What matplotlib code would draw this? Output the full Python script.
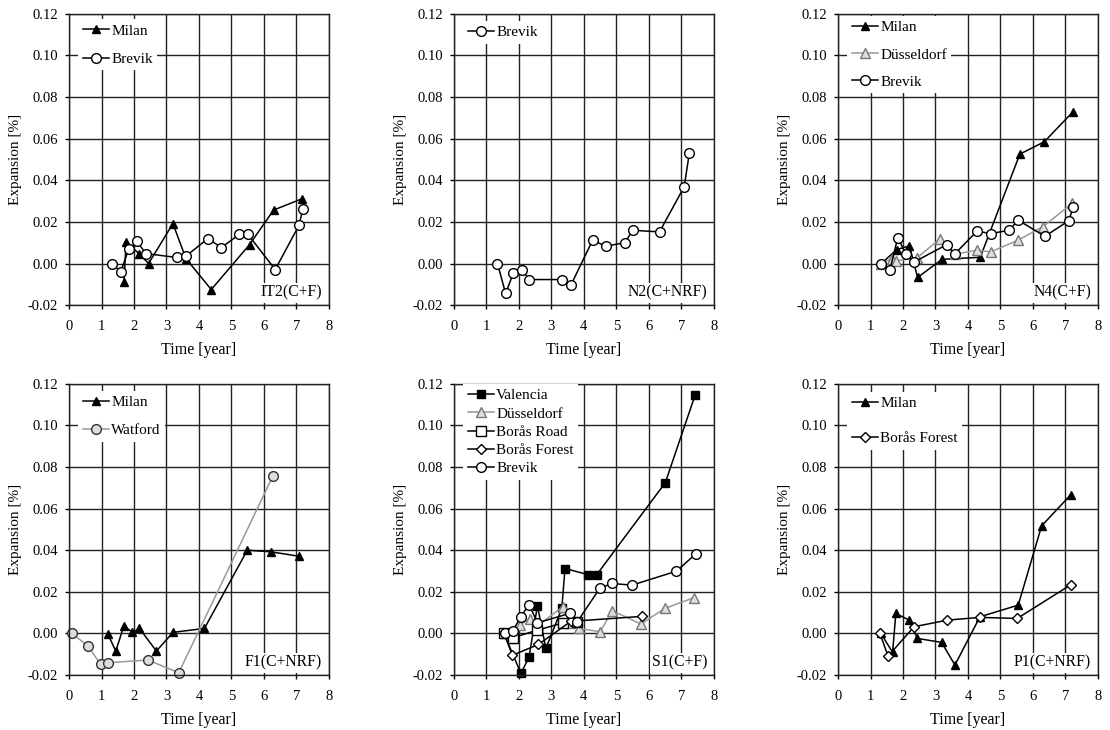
import matplotlib
matplotlib.use('Agg')
import matplotlib.pyplot as plt
from matplotlib.ticker import MultipleLocator, FormatStrFormatter

plt.rcParams['font.family'] = ['Liberation Serif', 'DejaVu Serif']
plt.rcParams['font.size'] = 10.5
plt.rcParams['legend.numpoints'] = 1

# IT2(C+F)
it2_milan_t = [1.69, 1.76, 2.15, 2.45, 3.2, 3.6, 4.38, 5.56, 6.3, 7.17]
it2_milan_e = [-0.0088, 0.0104, 0.0048, 0.0, 0.0192, 0.0024, -0.0125, 0.0091, 0.0257, 0.0311]
it2_brevik_t = [1.33, 1.59, 1.84, 2.1, 2.36, 3.32, 3.61, 4.28, 4.69, 5.25, 5.51, 6.35, 7.08, 7.2]
it2_brevik_e = [0.0, -0.004, 0.007, 0.0106, 0.0048, 0.0029, 0.0037, 0.012, 0.0077, 0.014, 0.014, -0.0029, 0.0183, 0.026]

# N2(C+NRF)
n2_brevik_t = [1.34, 1.59, 1.83, 2.09, 2.32, 3.34, 3.6, 4.27, 4.68, 5.27, 5.5, 6.33, 7.09, 7.25]
n2_brevik_e = [0.0, -0.0144, -0.0045, -0.0029, -0.0077, -0.0077, -0.0104, 0.0112, 0.0083, 0.0101, 0.016, 0.0152, 0.0369, 0.0532]

# N4(C+F)
n4_milan_t = [1.33, 1.81, 2.2, 2.45, 3.2, 4.38, 5.6, 6.35, 7.24]
n4_milan_e = [0.0, 0.0067, 0.0085, -0.0067, 0.002, 0.003, 0.0526, 0.0585, 0.073]
n4_dus_t = [1.33, 1.65, 1.78, 2.43, 3.15, 3.59, 4.28, 4.7, 5.54, 6.3, 7.22]
n4_dus_e = [0.0, 0.0024, 0.0013, 0.0027, 0.012, 0.0045, 0.0064, 0.0056, 0.0112, 0.0176, 0.029]
n4_brevik_t = [1.32, 1.6, 1.84, 2.09, 2.35, 3.35, 3.59, 4.28, 4.7, 5.28, 5.54, 6.37, 7.1, 7.25]
n4_brevik_e = [0.0, -0.0029, 0.0125, 0.0045, 0.0008, 0.0091, 0.0045, 0.0156, 0.0144, 0.016, 0.0209, 0.0131, 0.0205, 0.0273]

# F1(C+NRF)
f1_milan_t = [1.2, 1.44, 1.69, 1.95, 2.17, 2.69, 3.2, 4.17, 5.49, 6.23, 7.08]
f1_milan_e = [-0.0005, -0.0085, 0.0037, 0.0005, 0.0024, -0.0085, 0.0005, 0.0024, 0.04, 0.0392, 0.0371]
f1_watford_t = [0.1, 0.58, 0.97, 1.2, 2.43, 3.38, 6.28]
f1_watford_e = [0.0, -0.0061, -0.0147, -0.0141, -0.0128, -0.0189, 0.0757]

# S1(C+F)
s1_val_t = [1.54, 2.06, 2.31, 2.57, 2.83, 3.32, 3.42, 4.12, 4.4, 6.51, 7.43]
s1_val_e = [0.0, -0.0192, -0.0115, 0.0133, -0.0072, 0.012, 0.0312, 0.0283, 0.0283, 0.0725, 0.1147]
s1_dus_t = [1.54, 1.83, 2.02, 2.33, 2.6, 3.35, 3.58, 3.85, 4.5, 4.88, 5.76, 6.49, 7.38]
s1_dus_e = [0.0, -0.002, 0.004, 0.007, 0.004, 0.0128, 0.0048, 0.0024, 0.0008, 0.0109, 0.0045, 0.012, 0.0171]
s1_road_t = [1.54, 1.83, 2.57, 3.35, 3.8]
s1_road_e = [0.0, -0.002, 0.0016, 0.005, 0.0055]
s1_forest_t = [1.54, 1.8, 2.6, 3.6, 5.8]
s1_forest_e = [0.0, -0.0105, -0.0053, 0.0058, 0.0082]
s1_brevik_t = [1.57, 1.81, 2.06, 2.31, 2.57, 3.56, 3.8, 4.5, 4.88, 5.48, 6.85, 7.46]
s1_brevik_e = [0.0, 0.0013, 0.008, 0.0139, 0.0051, 0.0096, 0.0056, 0.0219, 0.024, 0.0232, 0.0299, 0.0384]

# P1(C+NRF)
p1_milan_t = [1.32, 1.68, 1.78, 2.19, 2.44, 3.19, 3.6, 4.37, 5.55, 6.27, 7.17]
p1_milan_e = [0.0, -0.0091, 0.0096, 0.0064, -0.0024, -0.0043, -0.0152, 0.008, 0.0136, 0.0517, 0.0667]
p1_forest_t = [1.29, 1.54, 2.34, 3.37, 4.37, 5.52, 7.18]
p1_forest_e = [0.0, -0.0109, 0.0032, 0.0064, 0.0077, 0.0072, 0.0235]

milan = dict(color='k', marker='^', ms=6, mfc='k', mec='k', lw=1.1)
brevik = dict(color='k', marker='o', ms=7, mfc='white', mec='k', lw=1.1)
dus = dict(color='#999999', marker='^', ms=7.5, mfc='#dddddd', mec='#777777', lw=1.1)
watford = dict(color='#999999', marker='o', ms=7, mfc='#dddddd', mec='#333333', lw=1.1)
valencia = dict(color='k', marker='s', ms=5.5, mfc='k', mec='k', lw=1.1)
road = dict(color='k', marker='s', ms=6.5, mfc='white', mec='k', lw=1.1)
forest = dict(color='k', marker='D', ms=5.5, mfc='white', mec='k', lw=1.1)

fig = plt.figure(figsize=(11.1, 7.3), dpi=100)
lefts = [0.0622, 0.409, 0.755]
bottoms = [0.582, 0.0753]
W, H = 0.234, 0.399

# name, series, legend label spacing, legend top offset
panels = [
    ('IT2(C+F)', [(it2_milan_t, it2_milan_e, 'Milan', milan),
                  (it2_brevik_t, it2_brevik_e, 'Brevik', brevik)], 0.95, 0.019),
    ('N2(C+NRF)', [(n2_brevik_t, n2_brevik_e, 'Brevik', brevik)], 0.9, 0.025),
    ('N4(C+F)', [(n4_milan_t, n4_milan_e, 'Milan', milan),
                 (n4_dus_t, n4_dus_e, 'Düsseldorf', dus),
                 (n4_brevik_t, n4_brevik_e, 'Brevik', brevik)], 0.88, 0.008),
    ('F1(C+NRF)', [(f1_milan_t, f1_milan_e, 'Milan', milan),
                   (f1_watford_t, f1_watford_e, 'Watford', watford)], 0.91, 0.025),
    ('S1(C+F)', [(s1_val_t, s1_val_e, 'Valencia', valencia),
                 (s1_dus_t, s1_dus_e, 'Düsseldorf', dus),
                 (s1_road_t, s1_road_e, 'Borås Road', road),
                 (s1_forest_t, s1_forest_e, 'Borås Forest', forest),
                 (s1_brevik_t, s1_brevik_e, 'Brevik', brevik)], 0.3, 0.001),
    ('P1(C+NRF)', [(p1_milan_t, p1_milan_e, 'Milan', milan),
                   (p1_forest_t, p1_forest_e, 'Borås Forest', forest)], 1.37, 0.029),
]

for i, (name, series, spacing, dy) in enumerate(panels):
    ax = fig.add_axes([lefts[i % 3], bottoms[i // 3], W, H])
    for t, e, lab, st in series:
        ax.plot(t, e, label=lab, clip_on=False, **st)
    ax.set_xlim(0, 8)
    ax.set_ylim(-0.02, 0.12)
    ax.xaxis.set_major_locator(MultipleLocator(1))
    ax.yaxis.set_major_locator(MultipleLocator(0.02))
    ax.yaxis.set_major_formatter(FormatStrFormatter('%.2f'))
    ax.set_axisbelow(True)
    ax.grid(True, color='#222222', lw=1.0)
    ax.tick_params(direction='out', length=3, width=1, labelsize=10.5)
    ax.tick_params(axis='x', pad=8)
    ax.tick_params(axis='y', pad=5)
    for s in ax.spines.values():
        s.set_color('#222222')
        s.set_linewidth(1.0)
    ax.set_xlabel('Time [year]', fontsize=11.5, labelpad=6)
    ax.set_ylabel('Expansion [%]', fontsize=11, labelpad=4)
    leg = ax.legend(loc='upper left', bbox_to_anchor=(0.036, 1 - dy),
                    borderaxespad=0, borderpad=0.3, fancybox=False,
                    framealpha=1, edgecolor='white', handlelength=1.7,
                    handletextpad=0.15, labelspacing=spacing, fontsize=11)
    leg.get_frame().set_linewidth(0)
    ax.text(0.975, 0.015, name, transform=ax.transAxes, ha='right', va='bottom',
            fontsize=11.3, bbox=dict(facecolor='white', edgecolor='none', pad=1.5))

fig.savefig('out.png', dpi=100)
